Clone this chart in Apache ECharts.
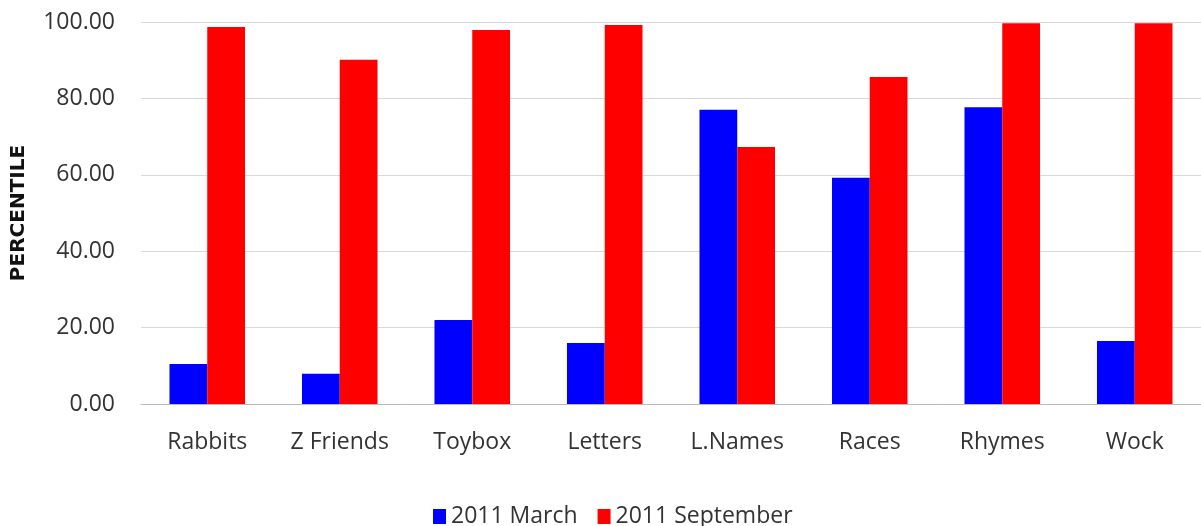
<!DOCTYPE html>
<html><head><meta charset="utf-8">
<script src="https://cdn.jsdelivr.net/npm/echarts@6/dist/echarts.min.js"></script>
<style>html,body{margin:0;padding:0;background:#fff}#c{width:1201px;height:526px}</style>
</head><body><div id="c"></div>
<script>
const categories = ["Rabbits","Z Friends","Toybox","Letters","L.Names","Races","Rhymes","Wock"];
const march = [10.5, 7.9, 22.0, 16.0, 77.0, 59.2, 77.7, 16.5];
const september = [98.7, 90.1, 97.9, 99.2, 67.3, 85.6, 99.7, 99.7];
const seriesNames = ["2011 March","2011 September"];
const font = "Open Sans";
const chart = echarts.init(document.getElementById('c'));
chart.setOption({
  animation:false,
  textStyle:{fontFamily:font},
  grid:{left:141, top:22, width:1072, height:382},
  legend:{top:500, left:428, itemWidth:13, itemHeight:15, itemGap:20, icon:'rect',
    textStyle:{fontSize:23, color:'#333', fontFamily:font},
    data:seriesNames},
  xAxis:{type:'category', data:categories,
    axisLine:{lineStyle:{color:'#bbb'}}, axisTick:{show:false},
    axisLabel:{fontSize:23, color:'#333', margin:27, fontFamily:font}},
  yAxis:{type:'value', min:0, max:100, interval:20,
    name:'PERCENTILE', nameLocation:'middle', nameGap:112,
    nameTextStyle:{fontSize:20, fontWeight:'bold', color:'#111', fontFamily:'DejaVu Sans'},
    axisLine:{show:false}, axisTick:{show:false},
    splitLine:{lineStyle:{color:'#d8d8d8'}},
    axisLabel:{fontSize:23, color:'#333', margin:26, formatter:v=>v.toFixed(2), fontFamily:font}},
  series:[
    {name:seriesNames[0], type:'bar', data:march, itemStyle:{color:'#0000ff'}, barGap:'0%', barCategoryGap:'43%'},
    {name:seriesNames[1], type:'bar', data:september, itemStyle:{color:'#ff0000'}, barGap:'0%', barCategoryGap:'43%'}
  ]
});
</script></body></html>
